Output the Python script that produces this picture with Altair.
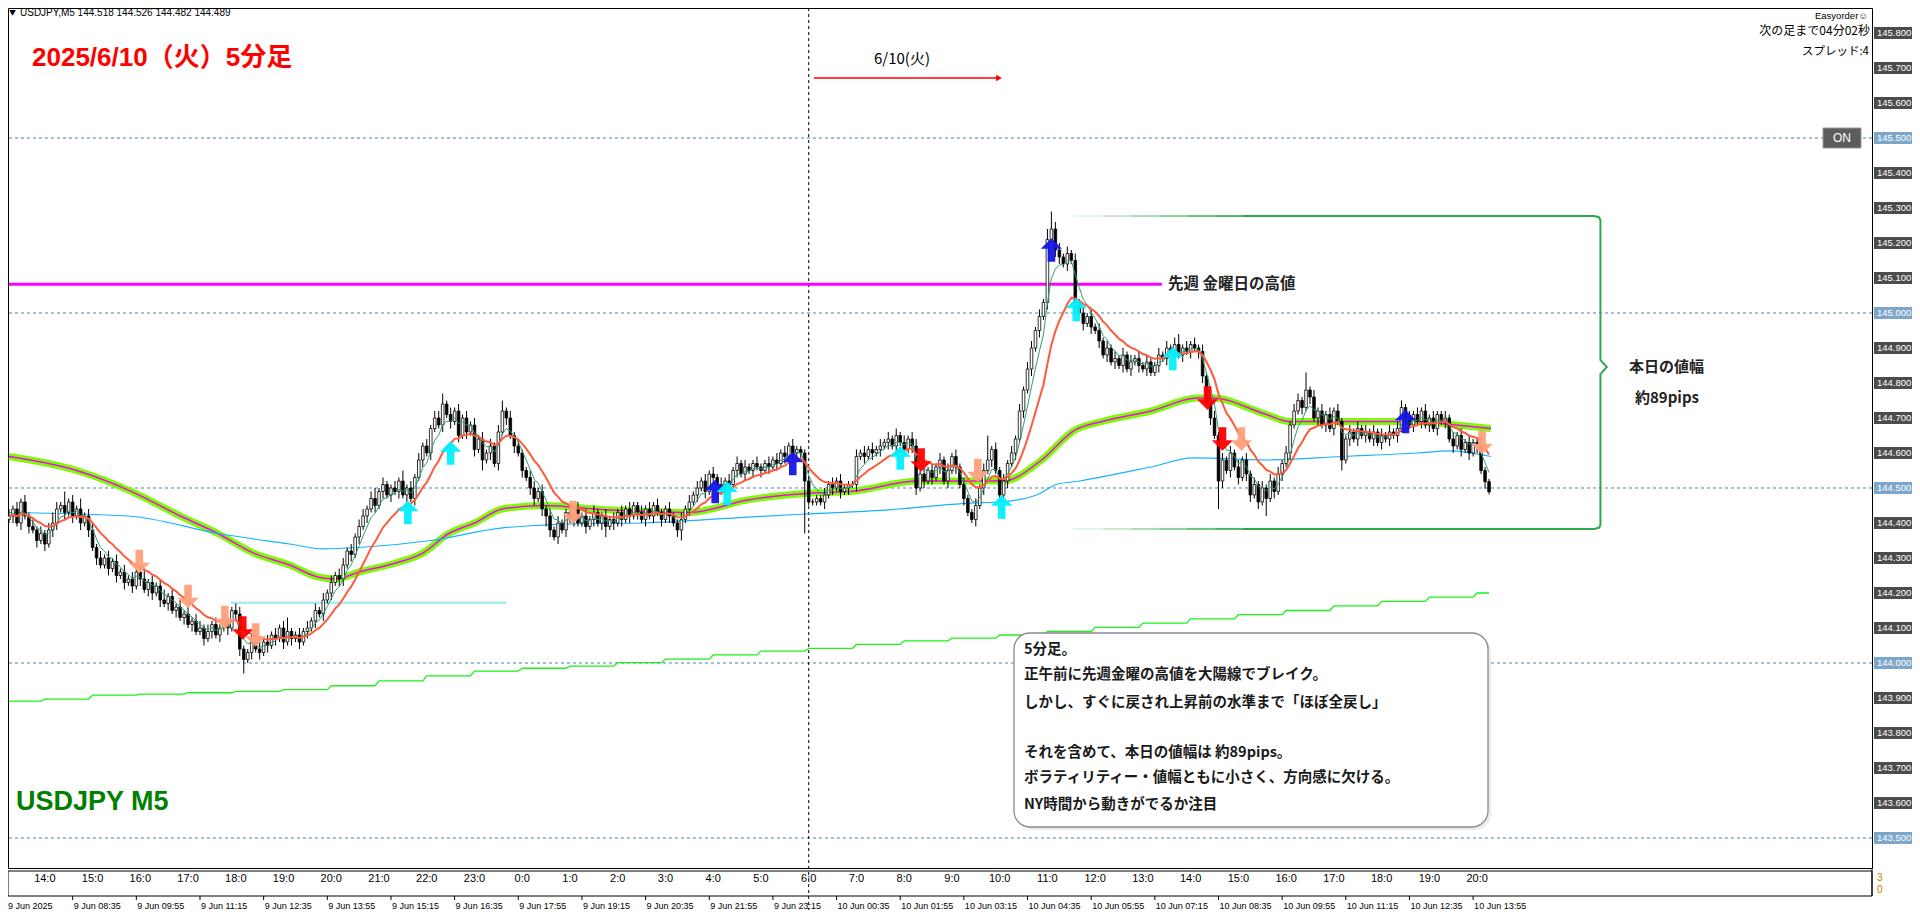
import altair as alt
import pandas as pd

# ---------------- data (prices in pips above 144.000, 1 pip = 0.01) ----------------
FIRST_OPEN = 41
CLOSE_PIPS = [
    42, 44, 40, 46, 42, 39, 38, 35, 37, 34, 38, 40,
    44, 45, 43, 46, 42, 44, 40, 42, 38, 33, 30, 28,
    30, 27, 29, 25, 26, 23, 24, 22, 26, 24, 21, 23,
    20, 22, 18, 17, 19, 15, 16, 13, 14, 11, 12, 9,
    10, 7, 9, 11, 8, 10, 12, 10, 15, 14, 4, 1,
    3, 6, 4, 3, 6, 5, 8, 7, 10, 6, 9, 7,
    8, 6, 9, 10, 12, 15, 14, 18, 20, 23, 25, 24,
    28, 32, 31, 36, 39, 42, 44, 47, 45, 49, 51, 48,
    50, 49, 52, 48, 50, 47, 53, 58, 62, 60, 67, 70,
    68, 74, 71, 69, 72, 65, 70, 66, 68, 61, 64, 58,
    60, 62, 57, 66, 72, 70, 65, 62, 60, 55, 53, 50,
    47, 49, 44, 42, 38, 36, 40, 38, 43, 41, 44, 40,
    42, 39, 41, 43, 40, 42, 39, 41, 40, 43, 41, 44,
    42, 45, 43, 41, 44, 42, 45, 43, 41, 44, 42, 40,
    38, 41, 44, 46, 48, 50, 52, 49, 54, 53, 51, 50,
    52, 51, 55, 57, 54, 56, 55, 57, 56, 55, 57, 56,
    58, 57, 60, 59, 62, 60, 61, 60, 52, 46, 46, 47,
    46, 48, 51, 50, 52, 49, 50, 51, 51, 59, 60, 59,
    61, 60, 61, 62, 63, 64, 62, 65, 63, 61, 64, 62,
    50, 54, 52, 55, 53, 56, 58, 52, 55, 59, 56, 51,
    47, 43, 41, 45, 50, 55, 58, 61, 55, 48, 52, 57,
    60, 64, 72, 78, 84, 90, 95, 99, 103, 121, 124, 118,
    116, 114, 117, 115, 103, 100, 97, 99, 96, 95, 92, 88,
    90, 86, 87, 85, 88, 84, 86, 87, 85, 84, 86, 83,
    85, 88, 87, 90, 89, 91, 88, 90, 89, 91, 90, 89,
    82, 74, 70, 65, 52, 58, 55, 60, 56, 53, 58, 54,
    48, 51, 46, 50, 47, 52, 49, 54, 57, 60, 68, 72,
    75, 73, 78, 76, 70, 72, 68, 71, 67, 72, 69, 58,
    64, 66, 64, 67, 65, 66, 64, 66, 63, 65, 64, 66,
    65, 67, 73, 70, 68, 71, 69, 72, 68, 70, 67, 71,
    69, 70, 64, 62, 65, 61, 63, 60, 63, 62, 55, 51.8,
    48.9,
]
UPPER_WICK = [
    2, 1, 2, 1, 2, 1, 2, 1, 2, 1, 2, 3,
    2, 1, 4, 1, 2, 1, 3, 1, 2, 2, 1, 2,
    1, 2, 1, 2, 1, 2, 1, 2, 1, 2, 3, 1,
    2, 1, 2, 3, 1, 2, 1, 2, 1, 2, 1, 2,
    2, 1, 2, 1, 2, 1, 2, 1, 1, 2, 2, 1,
    1, 2, 1, 2, 1, 2, 1, 2, 1, 2, 4, 1,
    1, 2, 1, 2, 1, 2, 1, 2, 1, 2, 1, 2,
    2, 1, 2, 1, 2, 2, 1, 2, 3, 1, 2, 1,
    1, 2, 1, 3, 1, 2, 1, 2, 1, 2, 1, 2,
    2, 3, 1, 2, 1, 2, 1, 2, 1, 2, 1, 2,
    1, 2, 1, 2, 3, 1, 2, 1, 2, 1, 1, 2,
    2, 1, 2, 1, 2, 1, 2, 1, 1, 2, 1, 2,
    1, 2, 1, 2, 1, 1, 2, 1, 2, 1, 2, 1,
    2, 1, 1, 2, 1, 2, 1, 2, 1, 1, 2, 1,
    1, 2, 1, 2, 1, 2, 1, 2, 1, 2, 1, 2,
    1, 2, 1, 2, 1, 2, 1, 1, 2, 1, 1, 2,
    1, 2, 1, 2, 1, 2, 1, 1, 1, 1, 1, 1,
    1, 2, 1, 2, 1, 2, 1, 1, 1, 2, 1, 2,
    1, 2, 1, 2, 1, 2, 1, 2, 1, 2, 1, 2,
    2, 1, 2, 1, 2, 1, 2, 1, 2, 1, 2, 1,
    2, 1, 1, 2, 1, 2, 7, 1, 2, 1, 2, 1,
    2, 1, 2, 1, 2, 2, 1, 2, 1, 3, 5, 2,
    2, 1, 2, 1, 2, 1, 2, 1, 2, 1, 2, 1,
    2, 1, 2, 1, 2, 1, 2, 1, 2, 1, 2, 1,
    1, 2, 1, 2, 1, 2, 3, 1, 2, 1, 2, 1,
    2, 1, 1, 2, 1, 2, 1, 2, 1, 2, 1, 2,
    1, 2, 1, 2, 1, 2, 1, 2, 1, 2, 1, 2,
    2, 1, 5, 1, 2, 1, 2, 1, 2, 1, 2, 1,
    1, 2, 1, 2, 1, 2, 1, 2, 1, 2, 1, 2,
    1, 2, 2, 1, 2, 1, 2, 1, 2, 1, 2, 1,
    1, 2, 1, 2, 1, 2, 1, 2, 1, 1, 2, 1,
    0.8,
]
LOWER_WICK = [
    1, 2, 1, 2, 1, 2, 1, 2, 1, 2, 1, 2,
    2, 1, 2, 1, 2, 1, 2, 1, 2, 1, 2, 1,
    1, 2, 1, 2, 1, 2, 1, 2, 1, 2, 1, 2,
    2, 1, 2, 1, 2, 1, 2, 1, 2, 1, 2, 1,
    1, 2, 1, 2, 1, 2, 1, 2, 1, 2, 2, 4,
    1, 2, 1, 2, 1, 2, 1, 2, 1, 2, 1, 2,
    1, 2, 1, 2, 1, 2, 1, 2, 1, 2, 1, 2,
    2, 1, 2, 1, 2, 1, 2, 1, 2, 1, 2, 1,
    2, 1, 2, 1, 2, 1, 2, 1, 2, 1, 2, 1,
    1, 2, 1, 2, 1, 2, 1, 2, 1, 2, 1, 3,
    1, 2, 1, 2, 1, 2, 1, 2, 1, 2, 1, 2,
    2, 1, 2, 3, 2, 1, 2, 1, 2, 1, 2, 1,
    1, 2, 1, 2, 1, 2, 3, 1, 2, 1, 2, 1,
    2, 1, 2, 1, 2, 1, 2, 1, 2, 1, 2, 1,
    2, 3, 1, 2, 1, 2, 1, 2, 1, 2, 1, 2,
    1, 2, 1, 2, 1, 2, 1, 2, 1, 2, 1, 2,
    1, 2, 1, 2, 1, 2, 1, 2, 15, 1, 1, 1,
    1, 2, 1, 2, 1, 2, 1, 2, 1, 2, 1, 2,
    1, 2, 1, 2, 1, 2, 1, 2, 1, 2, 1, 2,
    2, 1, 2, 1, 2, 1, 2, 1, 2, 1, 2, 1,
    2, 1, 1, 2, 1, 2, 1, 2, 1, 2, 1, 2,
    1, 2, 1, 2, 1, 2, 1, 2, 1, 2, 1, 2,
    2, 1, 2, 1, 2, 1, 2, 1, 2, 1, 2, 1,
    2, 1, 2, 1, 2, 1, 2, 1, 2, 1, 2, 1,
    1, 2, 1, 2, 1, 2, 1, 2, 1, 2, 1, 2,
    2, 1, 2, 1, 8, 2, 1, 2, 1, 2, 1, 2,
    2, 1, 2, 1, 5, 1, 2, 1, 2, 1, 2, 1,
    1, 2, 1, 2, 1, 2, 1, 2, 1, 2, 1, 3,
    1, 2, 1, 2, 1, 2, 1, 2, 1, 2, 1, 2,
    1, 2, 1, 2, 1, 2, 1, 2, 1, 2, 1, 2,
    1, 2, 1, 2, 1, 2, 1, 2, 1, 2, 1, 2,
    0.7,
]

# long moving average (thick lime / magenta): (bar, pips)
LIME_J = [0, 17, 30, 43.6, 52.5, 61.5, 70.5, 77.6, 82, 88, 97, 104, 110.5, 117, 124, 134, 151, 171,
          185.75, 201, 211.5, 228.75, 250, 259, 268, 274.75, 287, 298.75, 302.5, 316, 321.75, 335,
          354, 363.75, 372.5]
LIME_P = [59, 55, 49.4, 41.7, 37, 31.4, 28, 24.6, 24, 26, 28.5, 31.4, 37, 40, 44, 45, 43.7, 43,
          46.6, 48.5, 49, 52, 52, 57.5, 66.6, 69, 72, 75.7, 75.7, 71, 69, 69, 69, 68, 67]
# light blue long MA
SKY_J = [0, 30, 52.5, 70.5, 79, 88, 106, 124, 134, 139, 159.75, 185.75, 201, 220.25, 241.75, 249,
         258.25, 263.25, 269, 287, 297.75, 316, 335, 354, 362, 372.5]
SKY_P = [43, 42, 37, 34, 32.6, 33, 35, 38.6, 39.4, 39.7, 40, 41.7, 42.6, 43.7, 45.7, 46,
         48, 51, 52, 56, 58.6, 58, 59, 60, 60.6, 59]
# bright green hourly-step line: one value per hour segment
GREEN_STEP_P = [-10.9, -10.3, -9.2, -8.9, -8.5, -8.1, -7.6, -6.5, -5.1, -3.7, -2.3, -1.5, -0.9, 0.1,
                1.1, 2.3, 3.4, 4.2, 5.3, 6.3, 7.1, 8.0, 9.0, 10.2, 11.4, 12.6, 13.8, 15.0, 16.3,
                17.6, 18.8, 20.0]

# signal arrows
ARROW_J = [32.75, 45, 54.25, 58.75, 62, 100.25, 111, 141.75, 177.5, 180.5, 197, 224, 229.25, 243.5,
           249.5, 262, 268.25, 292.5, 301.25, 305, 309.75, 351, 370.25]
ARROW_P = [29, 19, 13, 10, 8, 43, 60, 43, 49, 48.5, 57, 58.6, 58, 55, 44.6, 118, 101, 87, 75.7, 64,
           64, 69, 63]
ARROW_KIND = ["weak_sell", "weak_sell", "weak_sell", "sell", "weak_sell", "weak_buy", "weak_buy",
              "weak_sell", "buy", "weak_buy", "buy", "weak_buy", "sell", "weak_sell", "weak_buy",
              "buy", "weak_buy", "weak_buy", "sell", "sell", "weak_sell", "buy", "weak_sell"]

FRIDAY_HIGH = 145.082
CYAN_LEVEL = 144.172
CYAN_J = [55.75, 125]
DAY_BREAK_J = 201
RANGE_TOP, RANGE_BOTTOM = 145.277, 144.383

PLAIN_TICKS = [143.430, 143.525, 143.620, 143.715, 143.810, 143.905, 144.000, 144.095, 144.190,
               144.285, 144.380, 144.475, 144.570, 144.665, 144.760, 144.855, 144.950, 145.045,
               145.140, 145.235, 145.330, 145.425, 145.520, 145.615, 145.710, 145.805]
BOX_LEVELS = [143.5, 143.6, 143.7, 143.8, 143.9, 144.0, 144.1, 144.2, 144.3, 144.4, 144.5, 144.6,
              144.7, 144.8, 144.9, 145.0, 145.1, 145.2, 145.3, 145.4, 145.5, 145.6, 145.7, 145.8]
ROUND_LEVELS = [143.5, 144.0, 144.5, 145.0, 145.5]

HOUR_LABELS = ["14:0", "15:0", "16:0", "17:0", "18:0", "19:0", "20:0", "21:0", "22:0", "23:0",
               "0:0", "1:0", "2:0", "3:0", "4:0", "5:0", "6:0", "7:0", "8:0", "9:0", "10:0",
               "11:0", "12:0", "13:0", "14:0", "15:0", "16:0", "17:0", "18:0", "19:0", "20:0"]
DATE_LABELS = ["9 Jun 08:35", "9 Jun 09:55", "9 Jun 11:15", "9 Jun 12:35", "9 Jun 13:55",
               "9 Jun 15:15", "9 Jun 16:35", "9 Jun 17:55", "9 Jun 19:15", "9 Jun 20:35",
               "9 Jun 21:55", "9 Jun 23:15", "10 Jun 00:35", "10 Jun 01:55", "10 Jun 03:15",
               "10 Jun 04:35", "10 Jun 05:55", "10 Jun 07:15", "10 Jun 08:35", "10 Jun 09:55",
               "10 Jun 11:15", "10 Jun 12:35", "10 Jun 13:55"]

NOTE_LINES = ["5分足。",
              "正午前に先週金曜の高値を大陽線でブレイク。",
              "しかし、すぐに戻され上昇前の水準まで「ほぼ全戻し」",
              "それを含めて、本日の値幅は 約89pips。",
              "ボラティリティー・値幅ともに小さく、方向感に欠ける。",
              "NY時間から動きがでるか注目"]

# ---------------- build tables ----------------
def px(p):
    return 144.0 + p / 100.0

n = min(len(CLOSE_PIPS), len(UPPER_WICK), len(LOWER_WICK))
rows = []
prev = FIRST_OPEN
for j in range(n):
    c = CLOSE_PIPS[j]
    o = prev
    rows.append(dict(j=j, o=px(o), c=px(c), h=px(max(o, c) + UPPER_WICK[j]),
                     l=px(min(o, c) - LOWER_WICK[j]), up=bool(c >= o)))
    prev = c
candles = pd.DataFrame(rows)

closes = candles["c"]
ema_fast = pd.DataFrame({"j": candles["j"], "p": closes.ewm(span=5, adjust=False).mean()})
ema_mid = pd.DataFrame({"j": candles["j"], "p": closes.ewm(span=13, adjust=False).mean()})

lime = pd.DataFrame({"j": LIME_J, "p": [px(v) for v in LIME_P]})
sky = pd.DataFrame({"j": SKY_J, "p": [px(v) for v in SKY_P]})

g_rows = []
starts = [0] + [9 + 12 * k for k in range(len(GREEN_STEP_P) - 1)]
for k, v in enumerate(GREEN_STEP_P):
    s = starts[k]
    e = starts[k + 1] - 1 if k + 1 < len(starts) else n - 1
    g_rows.append(dict(j=s, p=px(v)))
    g_rows.append(dict(j=e, p=px(v)))
green = pd.DataFrame(g_rows)

arrows = pd.DataFrame({"j": ARROW_J, "p": [px(v) for v in ARROW_P], "kind": ARROW_KIND})
arrows_up = arrows[arrows["kind"].str.contains("buy")]
arrows_dn = arrows[arrows["kind"].str.contains("sell")]

W, H = 1864, 860
XS = alt.Scale(domain=[1, 467], nice=False, zero=False)
YS = alt.Scale(domain=[143.4143, 145.8714], nice=False, zero=False)
X = alt.X("j:Q", scale=XS, axis=None)
JP = "Noto Sans CJK JP"
ONE = pd.DataFrame({"k": [0]})


def Y(field="p"):
    return alt.Y(f"{field}:Q", scale=YS, axis=None)


def label(text, x, y, size, color="#000000", weight="normal", align="left", font=JP):
    return alt.Chart(ONE).mark_text(text=text, fontSize=size, color=color, fontWeight=weight,
                                    align=align, baseline="middle", font=font).encode(
        x=alt.value(x), y=alt.value(y))


layers = []

# horizontal dashed round-number levels (carries the right axis)
levels = pd.DataFrame({"p": ROUND_LEVELS})
layers.append(alt.Chart(levels).mark_rule(color="#4682b4", strokeDash=[3, 3], strokeWidth=1).encode(
    y=alt.Y("p:Q", scale=YS, axis=alt.Axis(orient="right", values=PLAIN_TICKS, format=".3f",
                                           labelFont="Liberation Sans", labelFontSize=9.5,
                                           labelColor="#000", tickColor="#000", tickSize=3,
                                           domainColor="#000", labelPadding=2, grid=False,
                                           labelOverlap=False, labelBound=False, title=None))))

# day break
layers.append(alt.Chart(pd.DataFrame({"j": [DAY_BREAK_J]})).mark_rule(
    color="#000", strokeDash=[3, 3], strokeWidth=1).encode(x=X, y=alt.value(0), y2=alt.value(903)))

# long MAs under candles
layers.append(alt.Chart(lime).mark_line(color="#7cfc00", strokeWidth=7, interpolate="monotone").encode(x=X, y=Y()))
layers.append(alt.Chart(lime).mark_line(color="#ff00ff", strokeWidth=1.5, interpolate="monotone").encode(x=X, y=Y()))
layers.append(alt.Chart(sky).mark_line(color="#19b2ff", strokeWidth=1.2, interpolate="monotone").encode(x=X, y=Y()))
layers.append(alt.Chart(green).mark_line(color="#1df01d", strokeWidth=1.3).encode(x=X, y=Y()))

# lines
fri = pd.DataFrame({"j": [0], "j2": [289.75], "p": [FRIDAY_HIGH]})
layers.append(alt.Chart(fri).mark_rule(color="#ff00ff", strokeWidth=3, clip=True).encode(
    x=X, x2="j2:Q", y=Y()))
cyan = pd.DataFrame({"j": [CYAN_J[0]], "j2": [CYAN_J[1]], "p": [CYAN_LEVEL]})
layers.append(alt.Chart(cyan).mark_rule(color="#a9ecec", strokeWidth=2.5).encode(
    x=X, x2="j2:Q", y=Y()))

# candles
layers.append(alt.Chart(candles).mark_rule(color="#000", strokeWidth=1, clip=True).encode(
    x=X, y=Y("l"), y2="h:Q"))
layers.append(alt.Chart(candles).mark_bar(size=2.6, stroke="#000", strokeWidth=0.8, clip=True).encode(
    x=X, y=Y("o"), y2="c:Q",
    fill=alt.condition("datum.up", alt.value("#ffffff"), alt.value("#000000"))))

# short EMAs on top
layers.append(alt.Chart(ema_fast).mark_line(color="#2e9e6e", strokeWidth=1, clip=True).encode(x=X, y=Y()))
layers.append(alt.Chart(ema_mid).mark_line(color="#ff5a3c", strokeWidth=2, clip=True).encode(x=X, y=Y()))

# arrows
UP = "M0,-1L0.9,-0.1L0.32,-0.1L0.32,1L-0.32,1L-0.32,-0.1L-0.9,-0.1Z"
DN = "M0,1L0.9,0.1L0.32,0.1L0.32,-1L-0.32,-1L-0.32,0.1L-0.9,0.1Z"
acol = alt.Color("kind:N", legend=None,
                 scale=alt.Scale(domain=["weak_sell", "sell", "weak_buy", "buy"],
                                 range=["#ffa07a", "#ff0000", "#00f0ff", "#1414e6"]))
layers.append(alt.Chart(arrows_up).mark_point(shape=UP, filled=True, size=560, opacity=0.95).encode(
    x=X, y=Y(), color=acol))
layers.append(alt.Chart(arrows_dn).mark_point(shape=DN, filled=True, size=560, opacity=0.95).encode(
    x=X, y=Y(), color=acol))

# range bracket
T, B = RANGE_TOP, RANGE_BOTTOM
fade_x = [267.5, 275, 282, 289, 296, 303, 310]
fade_op = [0.12, 0.25, 0.4, 0.55, 0.7, 0.85]
for k in range(len(fade_op)):
    seg = pd.DataFrame({"j": [fade_x[k]], "j2": [fade_x[k + 1]], "p": [T], "q": [B]})
    layers.append(alt.Chart(seg).mark_rule(color="#2ea84c", strokeWidth=2, opacity=fade_op[k]).encode(
        x=X, x2="j2:Q", y=Y()))
    layers.append(alt.Chart(seg).mark_rule(color="#2ea84c", strokeWidth=2, opacity=fade_op[k]).encode(
        x=X, x2="j2:Q", y=Y("q")))
mid = (T + B) / 2 + 0.0155
br = pd.DataFrame({
    "j": [310, 398.5, 399.7, 400, 400, 401.6, 400, 400, 399.7, 398.5, 310],
    "p": [T, T, T - 0.004, T - 0.012, mid + 0.02, mid, mid - 0.02, B + 0.012, B + 0.004, B, B],
    "o": list(range(11))})
layers.append(alt.Chart(br).mark_line(color="#2ea84c", strokeWidth=2).encode(
    x=X, y=Y(), order="o:Q"))

# sub-window frame
layers.append(alt.Chart(ONE).mark_rect(fill=None, stroke="#000", strokeWidth=1).encode(
    x=alt.value(0), x2=alt.value(W), y=alt.value(863), y2=alt.value(888)))
layers.append(alt.Chart(ONE).mark_rule(color="#000", strokeWidth=1).encode(
    x=alt.value(W), y=alt.value(860), y2=alt.value(888)))

# boxed price labels on the axis
boxes = pd.DataFrame({"p": BOX_LEVELS,
                      "round": [v in ROUND_LEVELS for v in BOX_LEVELS]})
layers.append(alt.Chart(boxes).mark_tick(thickness=12, size=38, orient="horizontal").encode(
    x=alt.value(1885), y=Y(),
    color=alt.condition("datum.round", alt.value("#4682b4"), alt.value("#000000"))))
layers.append(alt.Chart(boxes).mark_text(align="left", baseline="middle", fontSize=9.5,
                                         font="Liberation Sans", color="#ffffff", dx=0).encode(
    x=alt.value(1869), y=Y(), text=alt.Text("p:Q", format=".3f")))

# x labels
hours = pd.DataFrame({"j": [9 + 12 * k for k in range(len(HOUR_LABELS))], "t": HOUR_LABELS})
layers.append(alt.Chart(hours).mark_text(align="center", baseline="middle", fontSize=11,
                                         font="Liberation Sans Narrow, Liberation Sans", color="#000").encode(
    x=X, y=alt.value(871), text="t:N"))
dates = pd.DataFrame({"j": [16 + 16 * k for k in range(len(DATE_LABELS))], "t": DATE_LABELS})
layers.append(alt.Chart(dates).mark_text(align="left", baseline="middle", fontSize=9,
                                         font="Liberation Sans Narrow, Liberation Sans", color="#000", dx=1).encode(
    x=X, y=alt.value(898), text="t:N"))
layers.append(alt.Chart(dates).mark_rule(color="#000").encode(x=X, y=alt.value(888), y2=alt.value(892)))
layers.append(label("9 Jun 2025", 0, 898, 9, font="Liberation Sans Narrow, Liberation Sans"))

# texts
layers.append(label("▼", 1, 5, 7))
layers.append(label("USDJPY,M5  144.518 144.526 144.482 144.489", 12, 5, 10, font="Liberation Sans"))
layers.append(label("2025/6/10（火）5分足", 24, 50, 26, color="#ff0000", weight="bold",
                    font="Liberation Sans, Noto Sans CJK JP"))
layers.append(label("USDJPY M5", 8, 794, 27, color="#008000", weight="bold", font="Liberation Sans"))
layers.append(label("6/10(火)", 894, 51, 15, align="center"))
layers.append(alt.Chart(ONE).mark_rule(color="#ff0000", strokeWidth=1.5).encode(
    x=alt.value(806), x2=alt.value(990), y=alt.value(70)))
layers.append(alt.Chart(ONE).mark_point(shape="triangle-right", filled=True, size=45, color="#ff0000",
                                        opacity=1).encode(x=alt.value(991), y=alt.value(70)))
layers.append(label("先週 金曜日の高値", 1160, 276, 15.5, color="#222222", weight="bold"))
layers.append(label("本日の値幅", 1621, 359, 15, color="#222222", weight="bold"))
layers.append(label("約89pips", 1627, 390, 15, color="#222222", weight="bold"))

layers.append(label("Easyorder☺", 1860, 8, 9.5, align="right", font="Liberation Sans, DejaVu Sans"))
layers.append(label("次の足まで04分02秒", 1862, 23, 12, align="right"))
layers.append(label("スプレッド:4", 1861, 44, 11.5, align="right"))

layers.append(alt.Chart(ONE).mark_rect(fill="#5c5c5c", stroke="#999999", strokeWidth=1).encode(
    x=alt.value(1815), x2=alt.value(1853), y=alt.value(120), y2=alt.value(140)))
layers.append(label("ON", 1834, 130, 12, color="#ffffff", align="center", font="Liberation Sans"))

layers.append(label("3", 1869, 870, 10, color="#c08000", font="Liberation Sans"))
layers.append(label("0", 1869, 882, 10, color="#c08000", font="Liberation Sans"))

# note box
layers.append(alt.Chart(ONE).mark_rect(fill="#000000", opacity=0.08, cornerRadius=16).encode(
    x=alt.value(1009), x2=alt.value(1483), y=alt.value(628), y2=alt.value(822)))
layers.append(alt.Chart(ONE).mark_rect(fill="#ffffff", stroke="#8a8a8a", strokeWidth=1.3,
                                       cornerRadius=16).encode(
    x=alt.value(1006), x2=alt.value(1480), y=alt.value(625), y2=alt.value(819)))
note_y = [642, 667, 695, 745, 770, 797]
for t, yy in zip(NOTE_LINES, note_y):
    layers.append(label(t, 1016, yy, 14.5, color="#1a1a1a", weight="bold"))

chart = alt.layer(*layers).properties(
    width=W, height=H,
    autosize=alt.AutoSizeParams(type="none"),
    padding={"left": 0, "top": 0, "right": 40, "bottom": 42},
    background="#ffffff",
).configure_view(stroke="#000000", strokeWidth=1)

chart.save("out.html", embed_options={"renderer": "svg", "actions": False})
